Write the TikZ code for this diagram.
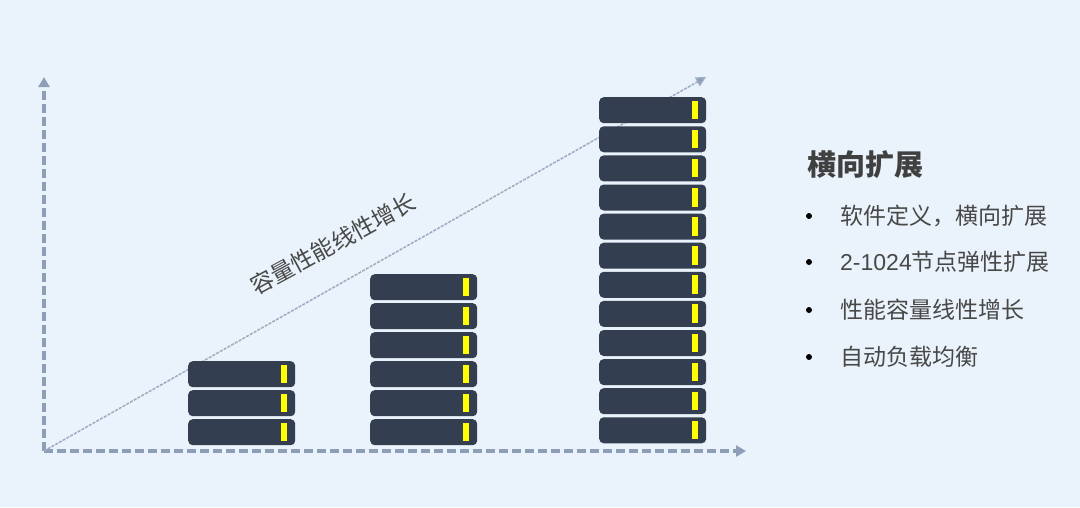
\documentclass[tikz,border=0pt]{standalone}
\usepackage{fontspec}
\setmainfont{Liberation Sans}
\newfontfamily\cjk{Noto Sans CJK SC}
\usetikzlibrary{arrows.meta}
\definecolor{bgc}{HTML}{EAF3FB}
\definecolor{axisc}{HTML}{8E9EB7}
\definecolor{diagc}{HTML}{9DABC2}
\definecolor{boxc}{HTML}{333F50}
\definecolor{ledc}{HTML}{FFFF00}
\definecolor{txtc}{HTML}{484848}
\definecolor{titlec}{HTML}{404040}
\tikzset{
  axisline/.style={draw=axisc,line width=3.4pt,line join=miter,dash pattern=on 9pt off 4pt,-{Triangle[length=10pt,width=11pt,fill=axisc]}},
  diagline/.style={draw=diagc,line width=1.5pt,dash pattern=on 3pt off 1.3pt,-{Triangle[length=10pt,width=10pt,fill=axisc]}},
  serverbox/.style={draw=none,fill=boxc,rounded corners=4.5pt,minimum width=107pt,minimum height=26pt,inner sep=0pt,anchor=north west},
  led/.style={fill=ledc,draw=none,minimum width=5.5pt,minimum height=18.5pt,inner sep=0pt},
  bulletdot/.style={circle,fill=black,draw=none,minimum size=6pt,inner sep=0pt},
  itemtext/.style={anchor=west,inner sep=0pt,text=txtc,font=\fontsize{23pt}{23pt}\selectfont\cjk},
  titletext/.style={anchor=west,inner sep=0pt,text=titlec,font=\fontsize{29pt}{29pt}\selectfont\cjk\bfseries},
  sloped label/.style={inner sep=0pt,text=txtc,rotate=28.5,font=\fontsize{23pt}{23pt}\selectfont\cjk}
}
\begin{document}
\begin{tikzpicture}[x=1pt,y=-1pt]
\useasboundingbox (0,0) rectangle (1080,507);
\fill[bgc] (0,0) rectangle (1080,507);
\coordinate (origin) at (44,451);
\coordinate (ytip) at (44,77);
\coordinate (xtip) at (746,451);
\coordinate (dtip) at (706,77);
\draw[axisline] (origin) -- (ytip);
\draw[axisline] (origin) -- (xtip);
\draw[diagline] (origin) -- (dtip);
% column 1
\foreach \i/\t in {1/361,2/390,3/419}{
  \node[serverbox] (a\i) at (188,\t) {};
  \node[led] (la\i) at (284,\t+13) {};
}
% column 2
\foreach \i/\t in {1/274,2/303,3/332,4/361,5/390,6/419}{
  \node[serverbox] (b\i) at (370,\t) {};
  \node[led] (lb\i) at (466,\t+13) {};
}
% column 3
\foreach \i in {1,...,12}{
  \pgfmathsetmacro{\t}{97+(\i-1)*29.1}
  \node[serverbox] (c\i) at (599,\t) {};
  \node[led] (lc\i) at (695,\t+13) {};
}
\node[sloped label] (growth) at (333,244) {容量性能线性增长};
\node[titletext] (title) at (807,165) {横向扩展};
\node[bulletdot] (d1) at (809,216) {};
\node[bulletdot] (d2) at (809,262) {};
\node[bulletdot] (d3) at (809,310) {};
\node[bulletdot] (d4) at (809,357) {};
\node[itemtext] (t1) at (840,216) {软件定义，横向扩展};
\node[itemtext] (t2) at (840,262) {{\rmfamily 2-1024}节点弹性扩展};
\node[itemtext] (t3) at (840,310) {性能容量线性增长};
\node[itemtext] (t4) at (840,357) {自动负载均衡};
\end{tikzpicture}
\end{document}
